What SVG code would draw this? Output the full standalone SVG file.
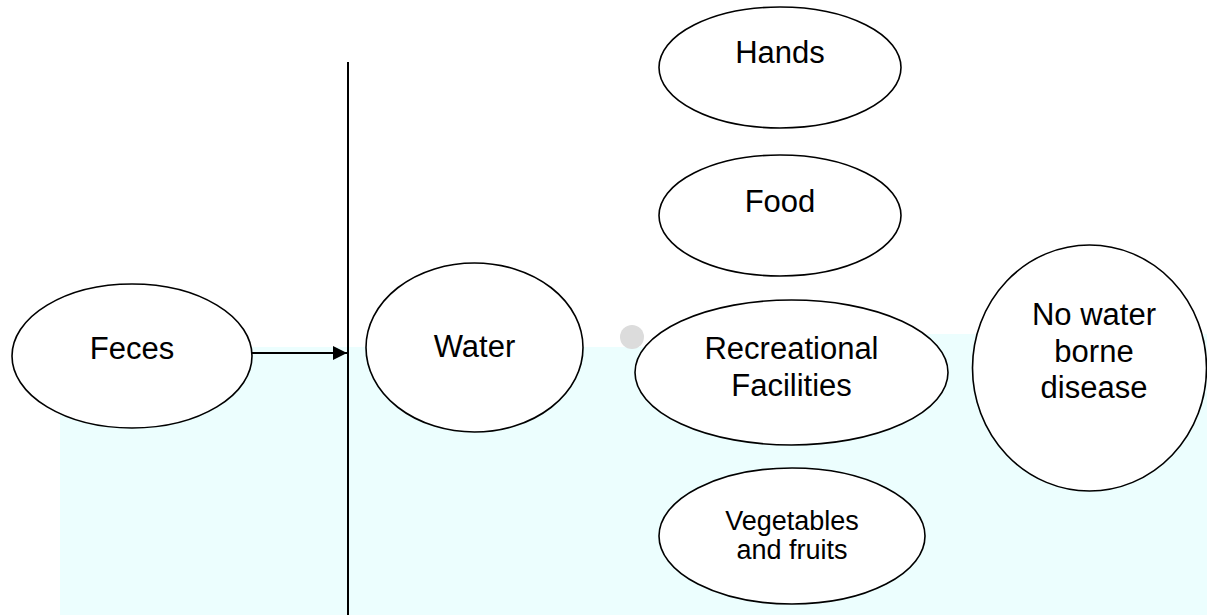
<svg xmlns="http://www.w3.org/2000/svg" width="1207" height="615" viewBox="0 0 1207 615">
<style>
.node{fill:#ffffff;stroke:#000000;stroke-width:1.6}
.lbl{font-family:"Liberation Sans",Arial,sans-serif;font-size:31px;fill:#000000;text-anchor:middle}
.sm{font-size:27px}
.conn{stroke:#000000;stroke-width:2;fill:none}
</style>
<defs>
<marker id="arrow" markerWidth="14" markerHeight="14" refX="14" refY="7" orient="auto" markerUnits="userSpaceOnUse">
<path d="M0,0 L14,7 L0,14 Z" fill="#000000"/>
</marker>
</defs>
<rect x="0" y="0" width="1207" height="615" fill="#ffffff"/>
<g id="background">
<path d="M60,347 L650,347 L700,334 L1207,334 L1207,615 L60,615 Z" fill="#ecfefe"/>
<circle cx="632" cy="337" r="12" fill="#dcdcdc"/>
</g>
<g id="connectors">
<line class="conn" x1="348" y1="62" x2="348" y2="615"/>
<line class="conn" x1="252" y1="353" x2="347" y2="353" stroke-width="1.6" marker-end="url(#arrow)"/>
</g>
<g id="feces">
<ellipse class="node" cx="132" cy="356" rx="120" ry="72"/>
<text class="lbl" x="132" y="359">Feces</text>
</g>
<g id="water">
<ellipse class="node" cx="474.5" cy="347.5" rx="108.5" ry="84.5"/>
<text class="lbl" x="474.5" y="357">Water</text>
</g>
<g id="hands">
<ellipse class="node" cx="780" cy="67.5" rx="121" ry="60.5"/>
<text class="lbl" x="780" y="63">Hands</text>
</g>
<g id="food">
<ellipse class="node" cx="780" cy="215.5" rx="121" ry="60.5"/>
<text class="lbl" x="780" y="212">Food</text>
</g>
<g id="recreational">
<ellipse class="node" cx="791.5" cy="372.5" rx="156.5" ry="72.5"/>
<text class="lbl" x="791.5" y="359">Recreational</text>
<text class="lbl" x="791.5" y="396">Facilities</text>
</g>
<g id="vegetables">
<ellipse class="node" cx="792" cy="536" rx="133" ry="68"/>
<text class="lbl sm" x="792" y="530">Vegetables</text>
<text class="lbl sm" x="792" y="559">and fruits</text>
</g>
<g id="no-disease">
<ellipse class="node" cx="1089.5" cy="368" rx="117" ry="123"/>
<text class="lbl" x="1094" y="325">No water</text>
<text class="lbl" x="1094" y="362">borne</text>
<text class="lbl" x="1094" y="398">disease</text>
</g>
</svg>
